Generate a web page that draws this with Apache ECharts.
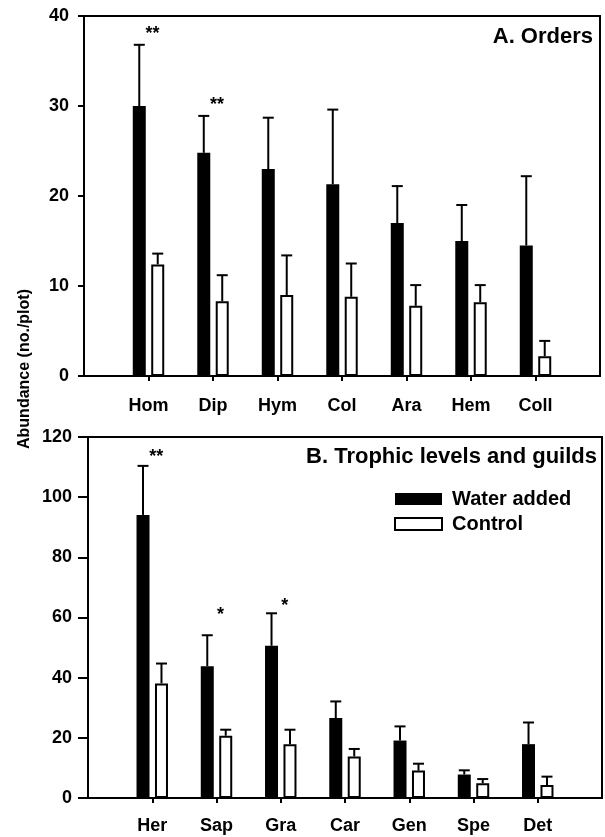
<!DOCTYPE html>
<html>
<head>
<meta charset="utf-8">
<script src="https://cdn.jsdelivr.net/npm/echarts@6/dist/echarts.min.js"></script>
<style>
html, body { margin: 0; padding: 0; background: #fff; }
#chart { width: 605px; height: 837px; }
</style>
</head>
<body>
<div id="chart"></div>
<script>
// panel A: orders
var ordersCats = ['Hom', 'Dip', 'Hym', 'Col', 'Ara', 'Hem', 'Coll'];
var ordersWater = [30.0, 24.8, 23.0, 21.3, 17.0, 15.0, 14.5];
var ordersWaterSE = [6.8, 4.1, 5.7, 8.3, 4.1, 4.0, 7.7];
var ordersControl = [12.4, 8.3, 9.0, 8.8, 7.8, 8.2, 2.2];
var ordersControlSE = [1.2, 2.9, 4.4, 3.7, 2.3, 1.9, 1.7];
var ordersStars = ['**', '**'];
var ordersStarsX = [0, 1];
var ordersStarsY = [38.0, 30.1];

// panel B: trophic levels and guilds
var guildCats = ['Her', 'Sap', 'Gra', 'Car', 'Gen', 'Spe', 'Det'];
var guildWater = [94.1, 43.8, 50.6, 26.6, 19.1, 7.8, 17.9];
var guildWaterSE = [16.3, 10.3, 10.8, 5.5, 4.7, 1.4, 7.2];
var guildControl = [38.1, 20.7, 17.9, 13.8, 9.1, 4.9, 4.3];
var guildControlSE = [6.6, 2.0, 4.8, 2.5, 2.3, 1.4, 2.8];
var guildStars = ['**', '*', '*'];
var guildStarsX = [0, 1, 2];
var guildStarsY = [113.3, 60.7, 63.7];

var ordersTicks = { max: 40, interval: 10 };
var guildTicks = { max: 120, interval: 20 };

var FONT = '"Liberation Sans", Arial, sans-serif';
var barW = 13;
var gapRatio = 0.42;
var half = (barW + barW * gapRatio) / 2;

// one empty slot each side so the bars sit like in the original
function padNames(arr) {
	return [''].concat(arr, ['']);
}
function padValues(arr) {
	return ['-'].concat(arr, ['-']);
}

function errData(means, se) {
	return means.map(function(m, i) {
		return [i + 1, m, se[i]];
	});
}

function errSeries(name, idx, means, se, side) {
	return {
		type: 'custom',
		name: name + ' SE',
		xAxisIndex: idx,
		yAxisIndex: idx,
		silent: true,
		z: 1,
		data: errData(means, se),
		renderItem: function(params, api) {
			var x = api.value(0);
			var m = api.value(1);
			var s = api.value(2);
			var p0 = api.coord([x, m]);
			var p1 = api.coord([x, m + s]);
			var cx = p0[0] + side * half;
			var st = { stroke: '#000', lineWidth: 2 };
			return {
				type: 'group',
				children: [
					{ type: 'line', shape: { x1: cx, y1: p0[1], x2: cx, y2: p1[1] }, style: st },
					{ type: 'line', shape: { x1: cx - 5.5, y1: p1[1], x2: cx + 5.5, y2: p1[1] }, style: st }
				]
			};
		}
	};
}

function starSeries(idx, xs, ys, labels) {
	return {
		type: 'custom',
		xAxisIndex: idx,
		yAxisIndex: idx,
		silent: true,
		data: xs.map(function(x, i) { return [x + 1, ys[i]]; }),
		renderItem: function(params, api) {
			var p = api.coord([api.value(0), api.value(1)]);
			return {
				type: 'text',
				x: p[0] + 4,
				y: p[1],
				style: {
					text: labels[params.dataIndex],
					fill: '#000',
					font: 'bold 18px ' + FONT,
					align: 'center',
					verticalAlign: 'middle'
				}
			};
		}
	};
}

function xAxis(idx, cats, margin) {
	return {
		type: 'category',
		gridIndex: idx,
		data: padNames(cats),
		boundaryGap: false,
		axisLine: { lineStyle: { color: '#000', width: 2 } },
		axisTick: {
			length: 5,
			lineStyle: { color: '#000', width: 2 },
			interval: function(i) { return i > 0 && i <= cats.length; }
		},
		axisLabel: {
			interval: 0,
			margin: margin,
			color: '#000',
			fontFamily: FONT,
			fontWeight: 'bold',
			fontSize: 18
		},
		splitLine: { show: false }
	};
}

function yAxis(idx, t, tickLen, margin) {
	return {
		type: 'value',
		gridIndex: idx,
		min: 0,
		max: t.max,
		interval: t.interval,
		axisLine: { show: true, lineStyle: { color: '#000', width: 2 } },
		axisTick: { show: true, length: tickLen, lineStyle: { color: '#000', width: 2 } },
		axisLabel: {
			margin: margin,
			color: '#000',
			fontFamily: FONT,
			fontWeight: 'bold',
			fontSize: 18
		},
		splitLine: { show: false }
	};
}

function barSeries(name, idx, values, filled) {
	return {
		type: 'bar',
		name: name,
		xAxisIndex: idx,
		yAxisIndex: idx,
		data: padValues(values),
		barWidth: barW,
		barGap: (gapRatio * 100) + '%',
		z: 2,
		itemStyle: filled ? { color: '#000' } : { color: '#fff', borderColor: '#000', borderWidth: 2 }
	};
}

var myChart = echarts.init(document.getElementById('chart'), null, { renderer: 'canvas' });
myChart.setOption({
	animation: false,
	backgroundColor: '#fff',
	grid: [
		{ left: 84, right: 5, top: 16, height: 360, show: true, borderColor: '#000', borderWidth: 2 },
		{ left: 88, right: 3, top: 437, height: 361, show: true, borderColor: '#000', borderWidth: 2 }
	],
	title: [
		{ text: 'A. Orders', right: 12, top: 26, padding: 0, textStyle: { fontFamily: FONT, fontWeight: 'bold', fontSize: 22, color: '#000' } },
		{ text: 'B. Trophic levels and guilds', right: 8, top: 446, padding: 0, textStyle: { fontFamily: FONT, fontWeight: 'bold', fontSize: 22, color: '#000' } }
	],
	legend: {
		orient: 'vertical',
		left: 394,
		top: 489,
		padding: 0,
		itemWidth: 47,
		itemHeight: 12,
		itemGap: 5,
		icon: 'rect',
		data: ['Water added', 'Control'],
		textStyle: { fontFamily: FONT, fontWeight: 'bold', fontSize: 20, color: '#000', padding: [0, 0, 0, 5] }
	},
	graphic: [{
		type: 'text',
		x: 25,
		y: 369,
		rotation: Math.PI / 2,
		style: {
			text: 'Abundance (no./plot)',
			fill: '#000',
			font: 'bold 16px ' + FONT,
			align: 'center',
			verticalAlign: 'middle'
		}
	}],
	xAxis: [xAxis(0, ordersCats, 21), xAxis(1, guildCats, 19)],
	yAxis: [yAxis(0, ordersTicks, 6, 15), yAxis(1, guildTicks, 10, 16)],
	series: [
		barSeries('Water added', 0, ordersWater, true),
		barSeries('Control', 0, ordersControl, false),
		barSeries('Water added', 1, guildWater, true),
		barSeries('Control', 1, guildControl, false),
		errSeries('Water added', 0, ordersWater, ordersWaterSE, -1),
		errSeries('Control', 0, ordersControl, ordersControlSE, 1),
		errSeries('Water added', 1, guildWater, guildWaterSE, -1),
		errSeries('Control', 1, guildControl, guildControlSE, 1),
		starSeries(0, ordersStarsX, ordersStarsY, ordersStars),
		starSeries(1, guildStarsX, guildStarsY, guildStars)
	]
});
</script>
</body>
</html>
